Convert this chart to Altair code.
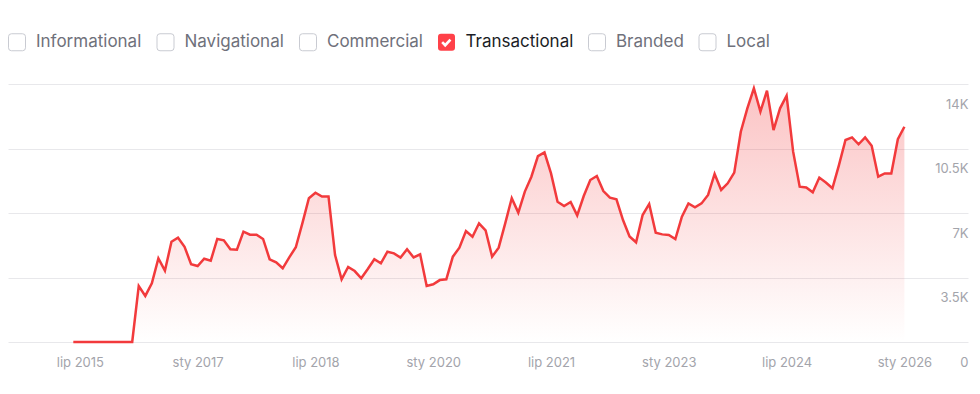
import altair as alt
import pandas as pd

# ---- data (monthly, first point = Jun 2015, last = Jan 2026) ----
values = [
    0, 0, 0, 0, 0, 0, 0, 0, 0, 0,
    3040, 2500, 3190, 4540, 3870, 5440, 5660, 5170, 4220, 4120,
    4520, 4410, 5590, 5520, 5030, 5010, 5990, 5820, 5820, 5590,
    4490, 4320, 4000, 4590, 5140, 6440, 7800, 8100, 7890, 7890,
    4720, 3400, 4070, 3850, 3460, 3960, 4490, 4270, 4900, 4810,
    4580, 5030, 4590, 4760, 3040, 3130, 3360, 3400, 4630, 5120,
    6020, 5710, 6440, 6060, 4630, 5120, 6440, 7800, 7020, 8160,
    8970, 10090, 10290, 9150, 7610, 7380, 7600, 6870, 7920, 8790,
    9010, 8190, 7830, 7740, 6620, 5730, 5410, 6890, 7490, 5930,
    5840, 5810, 5590, 6800, 7520, 7310, 7520, 7980, 9120, 8250,
    8610, 9190, 11410, 12680, 13770, 12500, 13640, 11500, 12680, 13370,
    10330, 8430, 8390, 8120, 8920, 8650, 8340, 9600, 10960, 11100,
    10730, 11100, 10650, 8970, 9150, 9150, 11000, 11680,
]
x_tick_pos = [1, 19, 37, 55, 73, 91, 109, 127]
x_tick_labels = ["lip 2015", "sty 2017", "lip 2018", "sty 2020",
                 "lip 2021", "sty 2023", "lip 2024", "sty 2026"]
y_tick_vals = [0, 3500, 7000, 10500, 14000]
y_tick_labels = ["0", "3.5K", "7K", "10.5K", "14K"]

categories = ["Informational", "Navigational", "Commercial",
              "Transactional", "Branded", "Local"]
checked = "Transactional"

# ---- styling ----
RED = "#f23a3c"
BOX_RED = "#ff4149"
BOX_BORDER = "#c9cbd2"
AXIS_TXT = "#a3a4ab"
FONT = "Inter"

df = pd.DataFrame({"i": list(range(len(values))), "v": values})
leg_df = pd.DataFrame({"cat": categories})


def js_arr(a):
    return "[" + ",".join(repr(s) if isinstance(s, str) else str(s) for s in a) + "]"


x_label_expr = f"{js_arr(x_tick_labels)}[indexof({js_arr(x_tick_pos)}, datum.value)]"
y_label_expr = f"{js_arr(y_tick_labels)}[indexof({js_arr(y_tick_vals)}, datum.value)]"

x_enc = alt.X(
    "i:Q",
    scale=alt.Scale(domain=[-9.98, 136.72], nice=False, zero=False),
    axis=alt.Axis(values=x_tick_pos, labelExpr=x_label_expr, grid=False,
                  domain=False, ticks=False, tickSize=0, labelPadding=14,
                  labelFont=FONT, labelFontSize=13, labelColor=AXIS_TXT,
                  labelFlush=False, title=None),
)
y_enc = alt.Y(
    "v:Q",
    scale=alt.Scale(domain=[0, 14000], nice=False),
    axis=alt.Axis(orient="right", values=y_tick_vals, labelExpr=y_label_expr,
                  grid=True, gridColor="#e8e8eb", gridWidth=1,
                  domain=False, ticks=False, tickSize=0, labelPadding=0,
                  labelAlign="right", labelBaseline="middle", labelOffset=20,
                  labelFont=FONT, labelFontSize=13, labelColor=AXIS_TXT,
                  labelFlush=False, title=None),
)

gradient = alt.Gradient(
    gradient="linear",
    stops=[alt.GradientStop(color="rgba(242,58,60,0.30)", offset=0),
           alt.GradientStop(color="rgba(242,58,60,0.0)", offset=1)],
    x1=1, x2=1, y1=0, y2=1,
)

area = alt.Chart(df).mark_area(color=gradient, interpolate="linear").encode(x=x_enc, y=y_enc)
line = alt.Chart(df).mark_line(color=RED, strokeWidth=2.5, interpolate="linear").encode(x="i:Q", y="v:Q")

# checkbox legend shapes (unit square -1..1)
box = "M-0.65,-1L0.65,-1Q1,-1 1,-0.65L1,0.65Q1,1 0.65,1L-0.65,1Q-1,1 -1,0.65L-1,-0.65Q-1,-1 -0.65,-1Z"
tick_hole = "M-0.62,0.10L-0.15,0.58L0.58,-0.20L0.35,-0.42L-0.155,0.12L-0.40,-0.12Z"
shape_range = [box + tick_hole if c == checked else box for c in categories]
fill_range = [BOX_RED if c == checked else "#ffffff" for c in categories]
stroke_range = ["transparent" if c == checked else BOX_BORDER for c in categories]

legend = alt.Legend(
    orient="none", legendX=0, legendY=-51, direction="horizontal", title=None,
    symbolSize=289, symbolStrokeWidth=1, symbolOpacity=1,
    labelFont=FONT, labelFontSize=17, labelOffset=10, columnPadding=12.5,
    labelLimit=300, padding=0,
    labelColor={"expr": f"datum.label == '{checked}' ? '#1b1d26' : '#6f717b'"},
)

legend_layer = alt.Chart(leg_df).transform_filter("false").mark_point(filled=True).encode(
    fill=alt.Fill("cat:N", scale=alt.Scale(domain=categories, range=fill_range), legend=legend),
    stroke=alt.Stroke("cat:N", scale=alt.Scale(domain=categories, range=stroke_range), legend=legend),
    shape=alt.Shape("cat:N", scale=alt.Scale(domain=categories, range=shape_range), legend=legend),
)

chart = alt.layer(area, line, legend_layer).properties(
    width=960, height=258,
    autosize=alt.AutoSizeParams(type="none"),
    padding={"left": 8, "top": 84, "right": 12, "bottom": 52},
    background="white",
).configure_view(stroke=None)

chart.save("out.html", embed_options={"renderer": "svg", "actions": False})
